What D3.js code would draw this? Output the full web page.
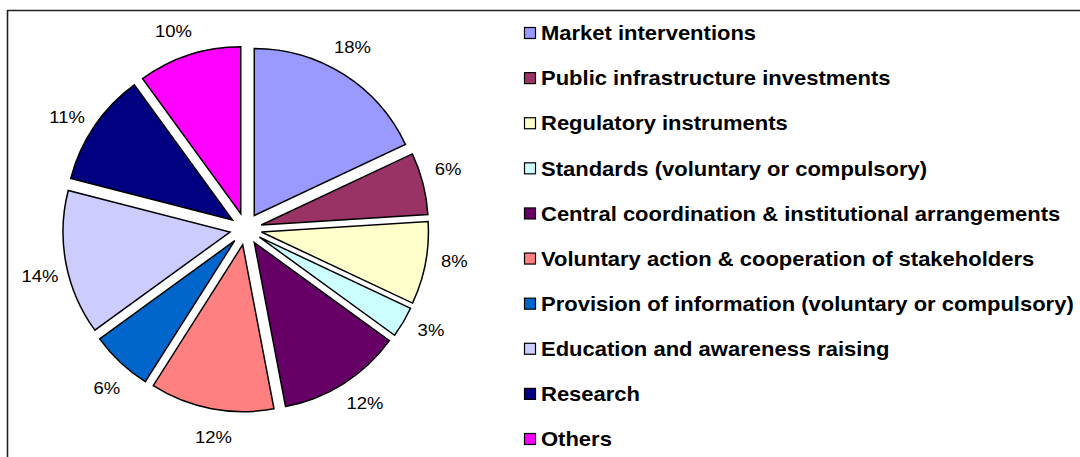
<!DOCTYPE html>
<html>
<head>
<meta charset="utf-8">
<script src="https://cdn.jsdelivr.net/npm/d3@7"></script>
<style>
  body { margin: 0; background: #fff; }
  svg { display: block; font-family: "Liberation Sans", Arial, sans-serif; }
</style>
</head>
<body>
<svg id="chart"></svg>
<script>
const categories = [
    "Market interventions",
    "Public infrastructure investments",
    "Regulatory instruments",
    "Standards (voluntary or compulsory)",
    "Central coordination & institutional arrangements",
    "Voluntary action & cooperation of stakeholders",
    "Provision of information (voluntary or compulsory)",
    "Education and awareness raising",
    "Research",
    "Others"
];
const shares = [18, 6, 8, 3, 12, 12, 6, 14, 11, 10];
const colors = ["#9999FF", "#993366", "#FFFFCC", "#CCFFFF", "#660066",
                "#FF8080", "#0066CC", "#CCCCFF", "#000080", "#FF00FF"];

const width = 1080, height = 457;
const cx = 245.7, cy = 229, radius = 167, explode = 16, labelRadius = 211;
const labelTurn = -2 * Math.PI / 180; // labels sit a little anticlockwise of mid-slice
const stretch = 1.1; // text in the original is a bit wide

const svg = d3.select("#chart")
    .attr("width", width)
    .attr("height", height);

// frame (only left and top edges are visible in the crop)
svg.append("path")
    .attr("d", `M7.5,${height} V10.5 H${width}`)
    .attr("fill", "none")
    .attr("stroke", "#222")
    .attr("stroke-width", 1.6);

const pie = d3.pie().sort(null).value(d => d);
const arcs = pie(shares);
const arc = d3.arc().innerRadius(0).outerRadius(radius);

const container = svg.append("g")
    .attr("transform", `translate(${cx}, ${cy})`);

container.selectAll("path.slice")
    .data(arcs)
    .join("path")
    .attr("class", "slice")
    .attr("transform", d => {
        const mid = (d.startAngle + d.endAngle) / 2;
        return `translate(${Math.sin(mid) * explode}, ${-Math.cos(mid) * explode})`;
    })
    .attr("d", arc)
    .attr("fill", (d, i) => colors[i])
    .attr("stroke", "#000")
    .attr("stroke-width", 1.5)
    .attr("stroke-linejoin", "miter");

container.selectAll("g.label")
    .data(arcs)
    .join("g")
    .attr("class", "label")
    .attr("transform", d => {
        const a = (d.startAngle + d.endAngle) / 2 + labelTurn;
        const x = Math.sin(a) * labelRadius, y = -Math.cos(a) * labelRadius;
        return `translate(${x}, ${y}) scale(1.12, 1)`;
    })
    .append("text")
    .attr("text-anchor", "middle")
    .attr("dy", "0.36em")
    .attr("font-size", 16.5)
    .attr("fill", "#000")
    .text(d => d.data + "%");

// legend
const legendY = d3.scalePoint()
    .domain(categories)
    .range([33, 439]);

const legend = svg.append("g");
const rows = legend.selectAll("g")
    .data(categories)
    .join("g")
    .attr("transform", d => `translate(524, ${legendY(d)})`);

rows.append("rect")
    .attr("x", 0.5)
    .attr("y", -5.5)
    .attr("width", 11)
    .attr("height", 11)
    .attr("fill", (d, i) => colors[i])
    .attr("stroke", "#000")
    .attr("stroke-width", 1.2);

rows.append("g")
    .attr("transform", `translate(17, 0) scale(${stretch}, 1)`)
    .append("text")
    .attr("dy", "0.36em")
    .attr("font-size", 20)
    .attr("font-weight", "bold")
    .attr("fill", "#000")
    .text(d => d);
</script>
</body>
</html>
